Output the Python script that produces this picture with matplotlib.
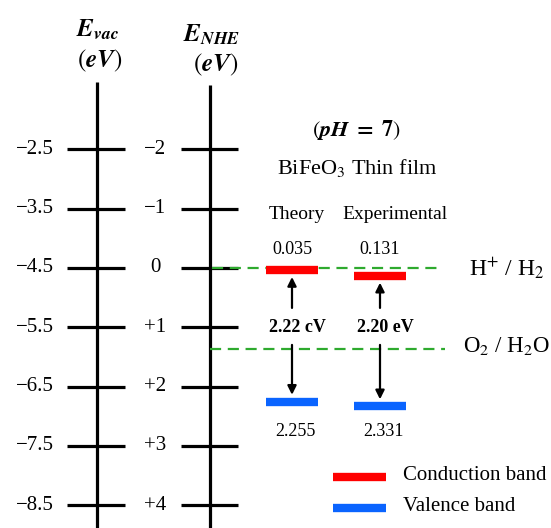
import numpy as np
import matplotlib.pyplot as plt

plt.rcParams['font.family'] = ['Liberation Serif', 'DejaVu Serif']
plt.rcParams['mathtext.fontset'] = 'stix'

# energy scales (NHE at pH 7 and vacuum level share the same vertical position)
evac_ticks = [-2.5, -3.5, -4.5, -5.5, -6.5, -7.5, -8.5]
nhe_ticks = [-2, -1, 0, 1, 2, 3, 4]
nhe_labels = ['\u22122', '\u22121', '0', '+1', '+2', '+3', '+4']

# band edges vs NHE (eV)
samples = ['Theory', 'Experimental']
cb_edge = [0.035, 0.131]
vb_edge = [2.255, 2.331]
cb_text = ['0.035', '0.131']
vb_text = ['2.255', '2.331']
gap_text = ['2.22 cV', '2.20 eV']

# redox potentials vs NHE at pH 7 (as drawn)
h_level = 0.0
o_level = 1.36

px_per_ev = 59.3
y0_px = 268

fig = plt.figure(figsize=(5.51, 5.28), dpi=100)
ax = fig.add_axes([0, 0, 1, 1])
ax.set_xlim(0, 551)
ax.set_ylim((528 - y0_px) / px_per_ev, -y0_px / px_per_ev)
ax.axis('off')

# vertical scales
ax.plot([97, 97], [-3.14, 5], color='black', lw=2.3, solid_capstyle='butt')
ax.plot([210, 210], [-3.09, 5], color='black', lw=2.3, solid_capstyle='butt')
for ev, nh, lab in zip(evac_ticks, nhe_ticks, nhe_labels):
    y = -4.5 - ev
    ax.plot([67, 125], [y, y], color='black', lw=2.3, solid_capstyle='butt')
    ax.plot([181, 238], [nh, nh], color='black', lw=2.3, solid_capstyle='butt')
    ax.text(35, y, f'{ev}'.replace('-', '\u2212'), ha='center', va='center', fontsize=15)
    ax.text(155, nh, lab, ha='center', va='center', fontsize=15)

ax.text(98, -4.01, r'$\mathbfit{E}_{\mathbfit{vac}}$', ha='center', va='center', fontsize=18)
ax.text(100, -3.5, r'$(\mathbfit{eV})$', ha='center', va='center', fontsize=18)
ax.text(212, -3.93, r'$\mathbfit{E}_{\mathbfit{NHE}}$', ha='center', va='center', fontsize=18)
ax.text(216, -3.42, r'$(\mathbfit{eV})$', ha='center', va='center', fontsize=18)

# redox lines
green = '#2eaa2e'
ax.plot([212, 443], [h_level, h_level], color=green, lw=1.6, ls=(0, (5, 3)))
ax.plot([210, 445], [o_level, o_level], color=green, lw=1.6, ls=(0, (5, 3)))
ax.text(469, h_level, r'H$^{+}$ / H$_2$', ha='left', va='center', fontsize=17)
ax.text(463, o_level - 0.04, r'O$_2$ / H$_2$O', ha='left', va='center', fontsize=16.5)

# titles
ax.text(357, -2.33, r'$(\mathbfit{pH}\ \mathbf{=}\ \mathbf{7})$', ha='center', va='center', fontsize=16)
ax.text(357, -1.68, r'BiFeO$_3$ Thin film', ha='center', va='center', fontsize=16)

xc = [292, 380]
xl = [[266, 318], [354, 406]]
for i in range(2):
    ax.text([297, 395][i], -0.9, samples[i], ha='center', va='center', fontsize=14)
    ax.text(xc[i], -0.32, cb_text[i], ha='center', va='center', fontsize=13)
    ax.text(xc[i] + 3, vb_edge[i] + 0.5 - 0.07 * i, vb_text[i], ha='center', va='center', fontsize=13)
    ax.plot(xl[i], [cb_edge[i], cb_edge[i]], color='#ff0000', lw=6, solid_capstyle='butt')
    ax.plot(xl[i], [vb_edge[i], vb_edge[i]], color='#0a64ff', lw=6, solid_capstyle='butt')
    ax.text(xc[i] + 5, 1.0, gap_text[i], ha='center', va='center', fontsize=13, fontweight='bold')
    ax.annotate('', xy=(xc[i], cb_edge[i] + 0.07), xytext=(xc[i], 0.72),
                arrowprops=dict(arrowstyle='-|>', color='black', lw=1.6, mutation_scale=13))
    ax.annotate('', xy=(xc[i], vb_edge[i] - 0.07), xytext=(xc[i], 1.25),
                arrowprops=dict(arrowstyle='-|>', color='black', lw=1.6, mutation_scale=13))

# legend
ax.plot([333, 386], [3.52, 3.52], color='#ff0000', lw=6, solid_capstyle='butt')
ax.plot([333, 386], [4.04, 4.04], color='#0a64ff', lw=6, solid_capstyle='butt')
ax.text(403, 3.50, 'Conduction band', ha='left', va='center', fontsize=15)
ax.text(403, 4.02, 'Valence band', ha='left', va='center', fontsize=15)

fig.savefig('out.png', dpi=100)
